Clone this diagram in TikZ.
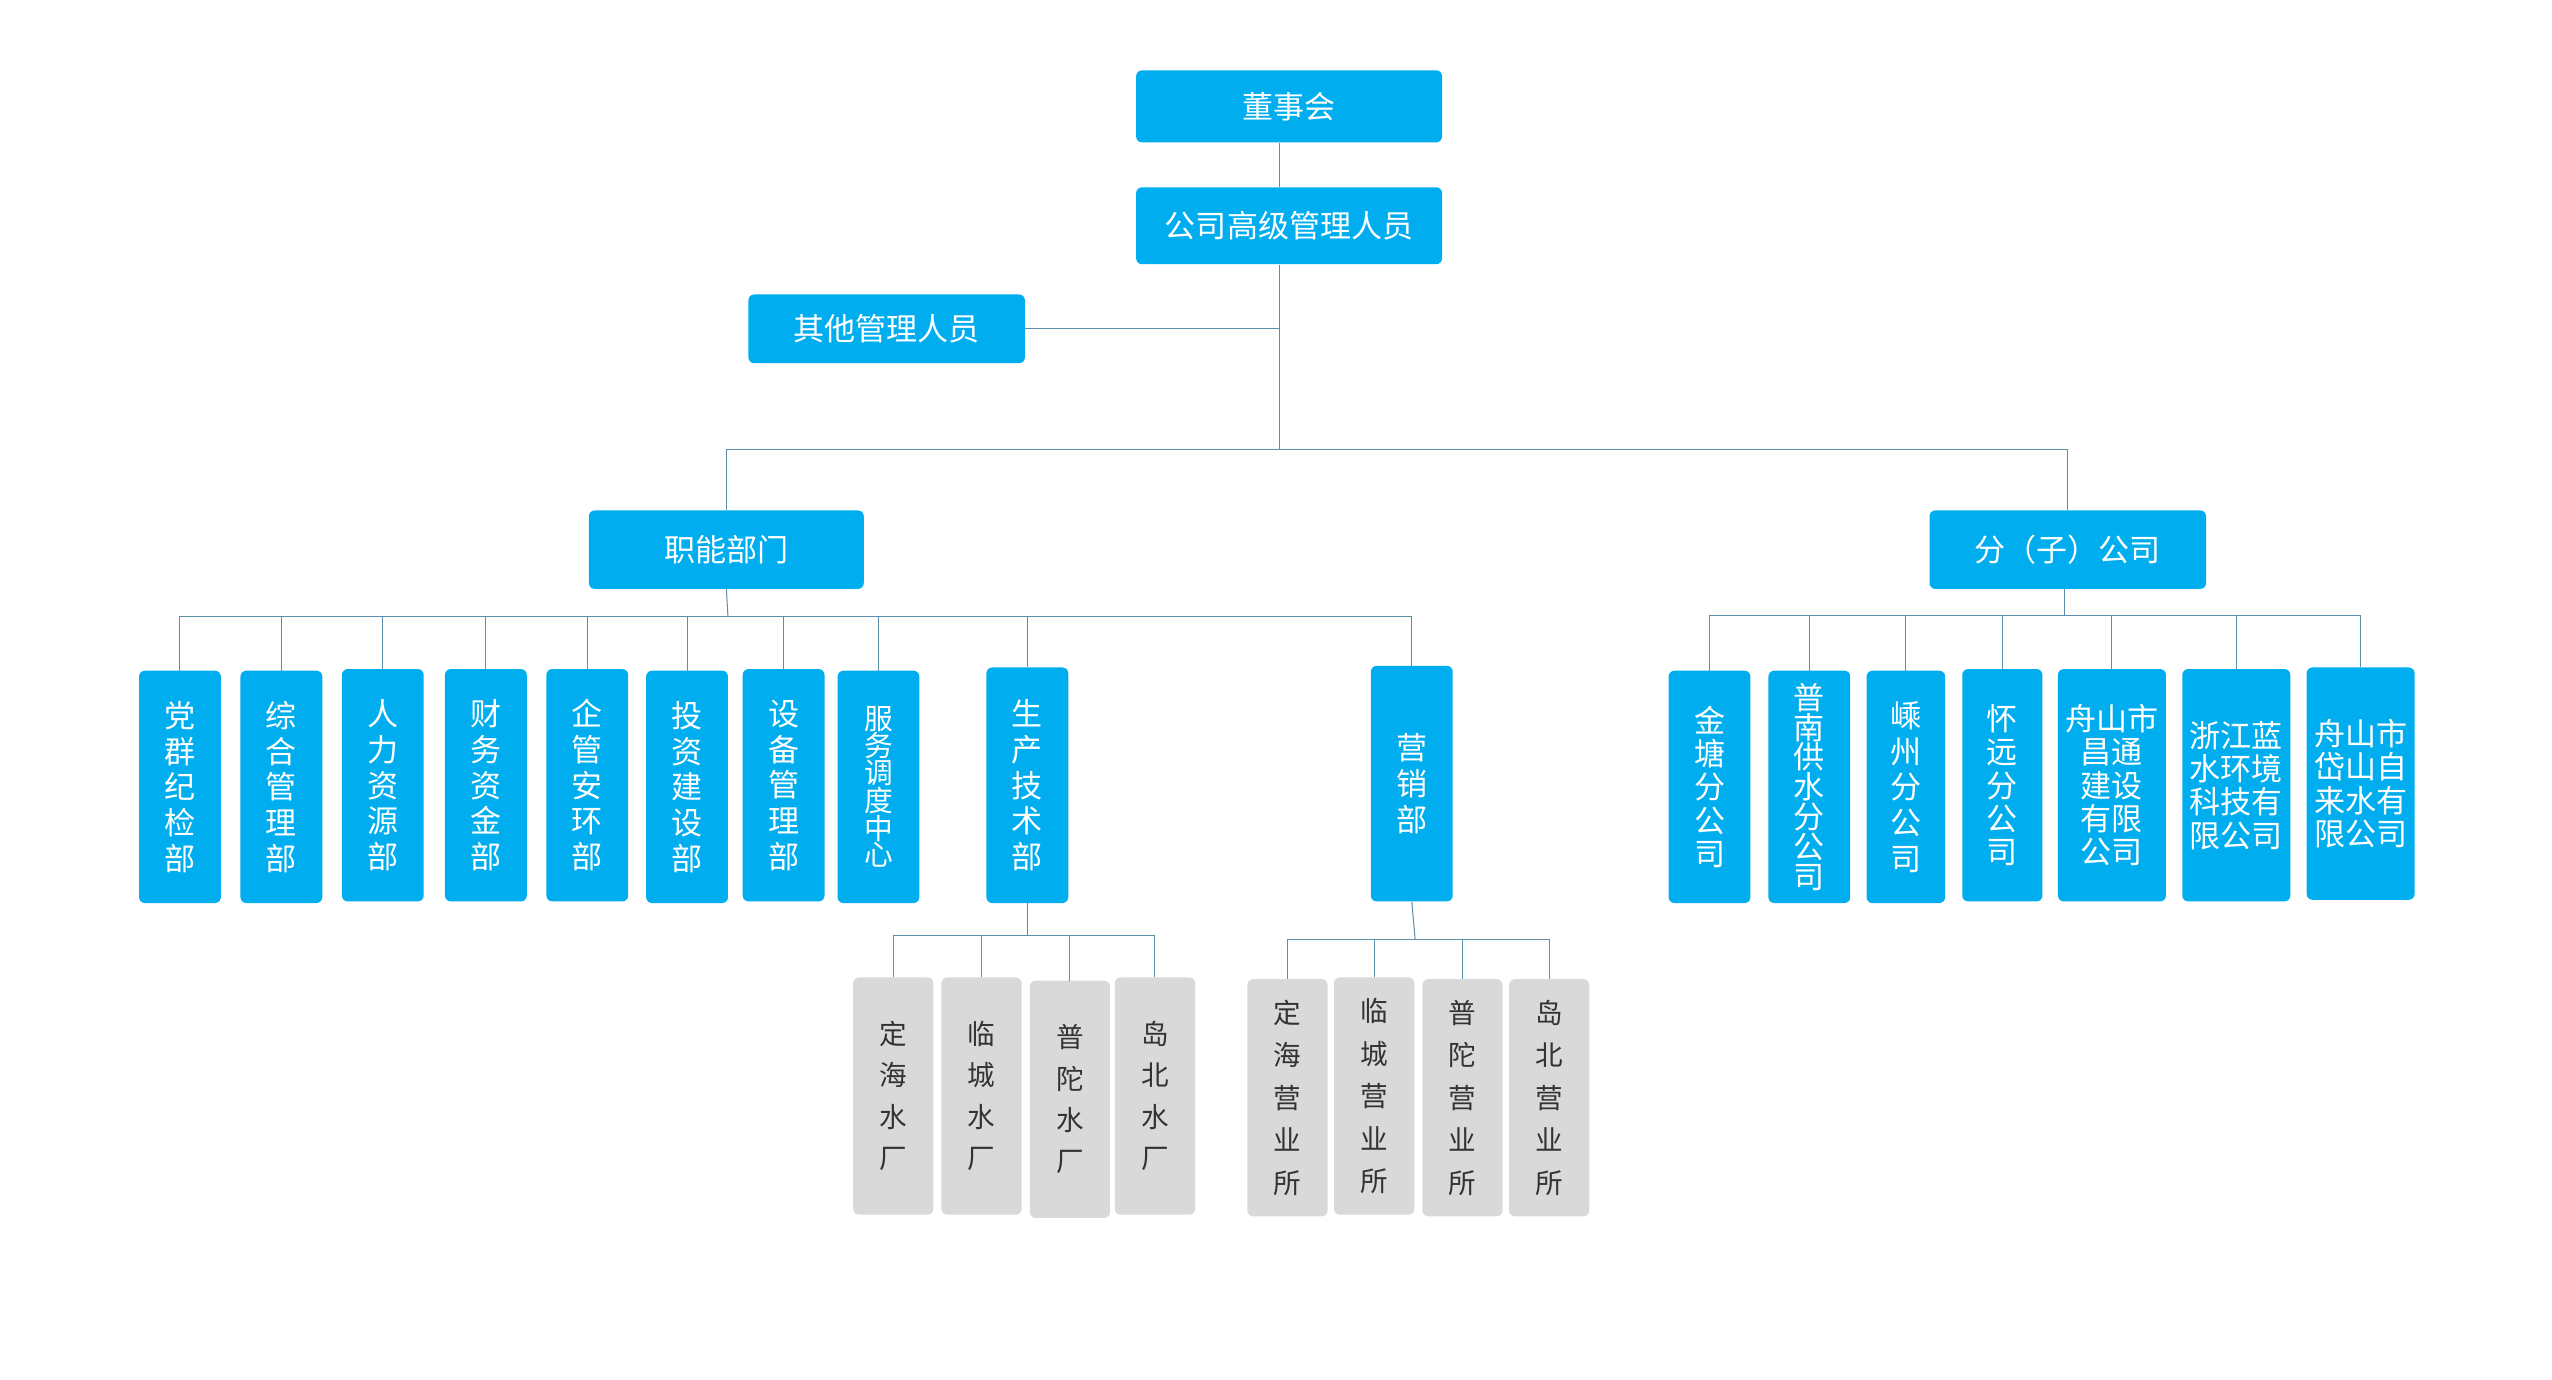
\documentclass[tikz,border=0pt]{standalone}
\usepackage{fontspec}
\setmainfont{Noto Sans CJK SC}
\begin{document}
\begin{tikzpicture}[x=0.05cm,y=-0.05cm,
  bb/.style={fill=blueC,rounded corners=5pt,text=white,align=center,inner sep=0pt,font=\fontsize{27}{31}\selectfont},
  vb/.style={bb,minimum width=2.5cm,minimum height=7.1cm},
  wb/.style={bb,minimum width=3.3cm,minimum height=7.1cm,font=\fontsize{27}{29}\selectfont},
  gb/.style={fill=grayC,rounded corners=5pt,text=textC,align=center,inner sep=0pt,minimum width=2.45cm,minimum height=7.25cm,font=\fontsize{24}{36}\selectfont},
  ln/.style={draw=lineC,line width=0.9pt}]
\definecolor{blueC}{HTML}{00AEEF}
\definecolor{grayC}{HTML}{D9D9D9}
\definecolor{textC}{HTML}{333333}
\definecolor{lineC}{HTML}{5E8FAA}
\useasboundingbox (0,0) rectangle (1560,843);
\node[bb,minimum width=9.35cm,minimum height=2.2cm] (top) at (788,65) {董事会};
\node[bb,minimum width=9.35cm,minimum height=2.35cm] (mgr) at (788,138) {公司高级管理人员};
\node[bb,minimum width=8.45cm,minimum height=2.1cm] (oth) at (542,201) {其他管理人员};
\node[bb,minimum width=8.4cm,minimum height=2.4cm] (fn) at (444,336) {职能部门};
\node[bb,minimum width=8.45cm,minimum height=2.4cm] (fz) at (1264,336) {分（子）公司};
\coordinate (t1) at (782,275);
\coordinate (t0) at (782,162);
\draw[ln] (top.south -| t1) -- (mgr.north -| t1);
\draw[ln] (t0) -- (t1);
\draw[ln] (oth.east) -- (oth.east -| t1);
\draw[ln] (fn.north) |- (t1);
\draw[ln] (fz.north) |- (t1);
% functional departments
\node[vb] (d1) at (110,481) {党\\群\\纪\\检\\部};
\node[vb] (d2) at (172,481) {综\\合\\管\\理\\部};
\node[vb] (d3) at (234,480) {人\\力\\资\\源\\部};
\node[vb] (d4) at (297,480) {财\\务\\资\\金\\部};
\node[vb] (d5) at (359,480) {企\\管\\安\\环\\部};
\node[vb] (d6) at (420,481) {投\\资\\建\\设\\部};
\node[vb] (d7) at (479,480) {设\\备\\管\\理\\部};
\node[vb,font=\fontsize{25}{22}\selectfont] (d8) at (537,481) {服\\务\\调\\度\\中\\心};
\node[vb,minimum height=7.2cm] (d9) at (628,480) {生\\产\\技\\术\\部};
\node[vb,minimum height=7.2cm] (d10) at (863,479) {营\\销\\部};
\coordinate (b1) at (445,377);
\draw[ln] (fn.south) -- (b1);
\foreach \n in {d1,d2,d3,d4,d5,d6,d7,d8,d9,d10} \draw[ln] (\n.north) |- (b1);
% water plants
\node[gb] (p1) at (546,670) {定\\海\\水\\厂};
\node[gb] (p2) at (600,670) {临\\城\\水\\厂};
\node[gb] (p3) at (654,672) {普\\陀\\水\\厂};
\node[gb] (p4) at (706,670) {岛\\北\\水\\厂};
\coordinate (b2) at (628,572);
\draw[ln] (d9.south) -- (b2);
\foreach \n in {p1,p2,p3,p4} \draw[ln] (\n.north) |- (b2);
% sales offices
\node[gb,font=\fontsize{24}{37}\selectfont] (s1) at (787,671) {定\\海\\营\\业\\所};
\node[gb,font=\fontsize{24}{37}\selectfont] (s2) at (840,670) {临\\城\\营\\业\\所};
\node[gb,font=\fontsize{24}{37}\selectfont] (s3) at (894,671) {普\\陀\\营\\业\\所};
\node[gb,font=\fontsize{24}{37}\selectfont] (s4) at (947,671) {岛\\北\\营\\业\\所};
\coordinate (b3) at (865,574);
\draw[ln] (d10.south) -- (b3);
\foreach \n in {s1,s2,s3,s4} \draw[ln] (\n.north) |- (b3);
% subsidiaries
\node[vb,font=\fontsize{27}{29}\selectfont] (c1) at (1045,481) {金\\塘\\分\\公\\司};
\node[vb,font=\fontsize{27}{26}\selectfont] (c2) at (1106,481) {普\\南\\供\\水\\分\\公\\司};
\node[vb,minimum width=2.4cm] (c3) at (1165,481) {嵊\\州\\分\\公\\司};
\node[vb,minimum width=2.45cm,font=\fontsize{27}{29}\selectfont] (c4) at (1224,480) {怀\\远\\分\\公\\司};
\node[wb] (c5) at (1291,480) {舟山市\\昌通\\建设\\有限\\公司};
\node[wb] (c6) at (1367,480) {浙江蓝\\水环境\\科技有\\限公司};
\node[wb] (c7) at (1443,479) {舟山市\\岱山自\\来水有\\限公司};
\coordinate (b4) at (1262,376);
\draw[ln] (fz.south -| b4) -- (b4);
\foreach \n in {c1,c2,c3,c4,c5,c6,c7} \draw[ln] (\n.north) |- (b4);
\end{tikzpicture}
\end{document}
